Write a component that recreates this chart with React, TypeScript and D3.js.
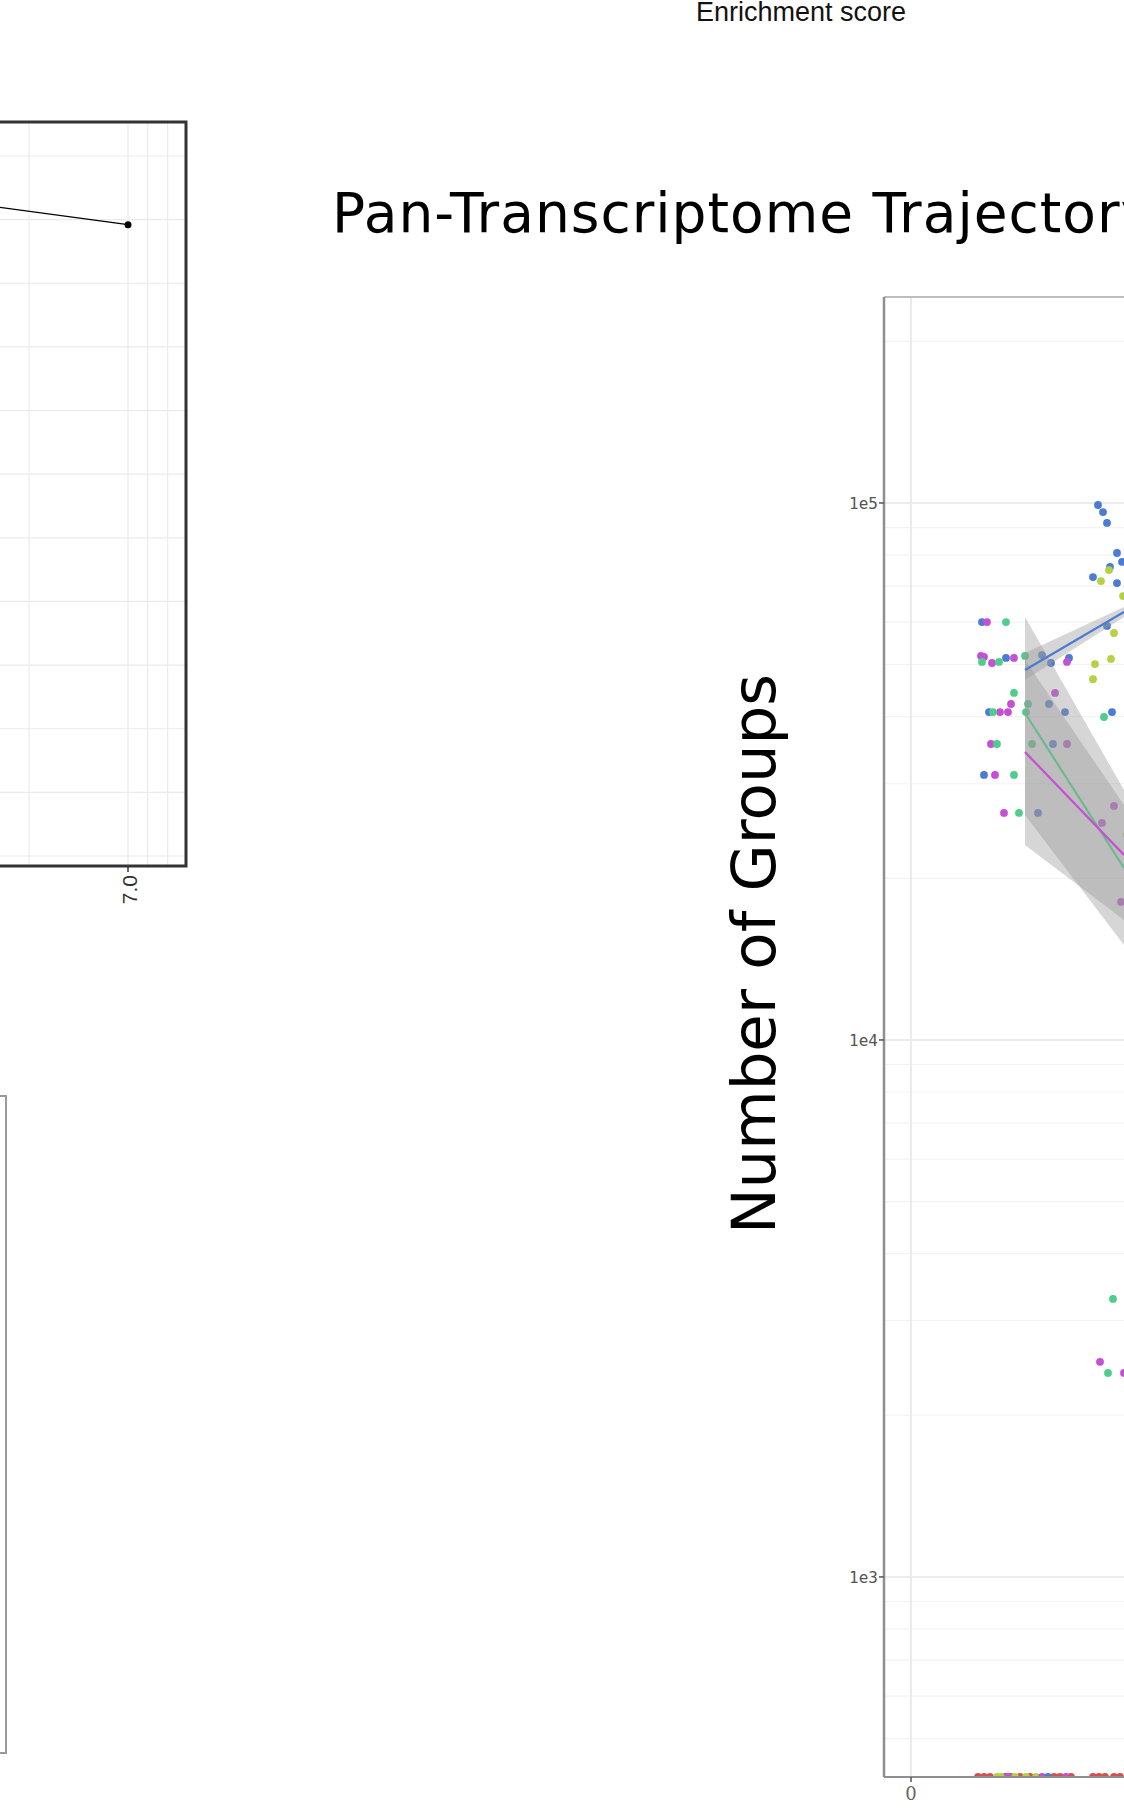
import React, { useEffect, useRef } from 'react';
import * as d3 from 'd3';

// ---- left (enrichment) panel, only its right edge is in view ----
const enrichX = [6.0, 7.0];
const enrichY = [5.17, 4.96];
const enrichGridX = [6.5, 7.0, 7.1, 7.2];
const enrichGridY = [0, 0.5, 1, 1.5, 2, 2.5, 3, 3.5, 4, 4.5, 5, 5.5];
const enrichTicks = [7.0];
const enrichTickLabels = ['7.0'];

// ---- pan-transcriptome trajectory panel ----
const blueX = [7.1, 9.5, 7.8, 7.3, 13.1, 14.0, 15.8, 13.8, 15.4, 14.2, 12.7, 18.7, 19.2, 19.6, 20.6, 21.1, 18.2, 19.9, 20.6, 19.6, 20.1];
const blueY = [60000, 51450, 40800, 31160, 52100, 50350, 51450, 42230, 40800, 35580, 26470, 99150, 96200, 91800, 80700, 77700, 72800, 76000, 70950, 59020, 40800];

const magentaX = [7.6, 7.0, 7.3, 8.1, 10.3, 10.0, 8.9, 9.7, 8.0, 8.4, 9.3, 15.6, 14.4, 15.6, 20.3, 19.1, 21.0, 18.9, 21.3];
const magentaY = [60000, 51900, 51680, 50350, 51450, 42230, 40800, 40800, 35580, 31160, 26470, 50580, 44290, 35580, 27280, 25360, 18070, 2515, 2398];

const greenX = [9.5, 7.1, 8.8, 10.3, 8.2, 8.6, 10.3, 10.8, 11.4, 11.7, 11.5, 12.1, 19.3, 20.2, 19.7];
const greenY = [60000, 50580, 50580, 44290, 40800, 35580, 31160, 26470, 51900, 42230, 40800, 35580, 39940, 3294, 2398];

const limeX = [19.8, 19.0, 21.2, 20.3, 18.4, 20.0, 18.2, 21.6];
const limeY = [75000, 71550, 67100, 57270, 50130, 51230, 46980, 24100];

// zero counts sit on the bottom of the panel
const redZeroX = [6.7, 7.3, 7.9, 9.4, 10.0, 10.9, 11.9, 14.3, 14.9, 16.0, 18.2, 18.8, 19.4, 20.3, 20.9];
const limeZeroX = [8.6, 9.0, 10.4, 11.5, 12.5];
const magentaZeroX = [9.7, 13.1, 15.5];
const blueZeroX = [13.7];

// linear fits (log y) with confidence bands
const fitX = [11.4, 21.3];
const blueFit = [48870, 62680];
const blueLo = [46810, 61330];
const blueHi = [52560, 64010];
const greenFit = [40640, 20910];
const greenLo = [26240, 15030];
const greenHi = [61330, 29210];
const magentaFit = [34380, 22110];
const magentaLo = [23080, 16730];
const magentaHi = [51000, 27390];

const majorBreaks = [1e3, 1e4, 1e5];
const majorLabels = ['1e3', '1e4', '1e5'];
const minorBreaks = [500, 600, 700, 800, 900, 2000, 3000, 4000, 5000, 6000, 7000, 8000, 9000,
  20000, 30000, 40000, 50000, 60000, 70000, 80000, 90000, 200000];
const xBreaks = [0];
const xLabels = ['0'];

const COLORS = {
  blue: '#4b7bd3',
  magenta: '#c450d5',
  green: '#4fcd8c',
  lime: '#b4d243',
  red: '#d6504f',
};

const App = () => {
  const svgRef = useRef(null);

  useEffect(() => {
    const svg = d3.select(svgRef.current);
    svg.selectAll('*').remove();

    // ---------- enrichment panel ----------
    const xL = d3.scaleLinear().domain([6.5, 7.0]).range([29, 128]);
    const yL = d3.scaleLinear().domain([0, 5.5]).range([856, 156]);
    const left = svg.append('g');
    const lTop = 122, lBottom = 866, lRight = 186;

    left.selectAll('line.gy').data(enrichGridY).enter().append('line')
      .attr('x1', -10).attr('x2', lRight)
      .attr('y1', d => yL(d)).attr('y2', d => yL(d))
      .attr('stroke', '#ebebeb').attr('stroke-width', 1.2);
    left.selectAll('line.gx').data(enrichGridX).enter().append('line')
      .attr('x1', d => xL(d)).attr('x2', d => xL(d))
      .attr('y1', lTop).attr('y2', lBottom)
      .attr('stroke', '#ebebeb').attr('stroke-width', 1.2);

    const enrich = enrichX.map((x, i) => ({ x, y: enrichY[i] }));
    left.append('path').datum(enrich)
      .attr('fill', 'none').attr('stroke', '#000').attr('stroke-width', 1.3)
      .attr('d', d3.line().x(d => xL(d.x)).y(d => yL(d.y)));
    left.selectAll('circle').data(enrich).enter().append('circle')
      .attr('cx', d => xL(d.x)).attr('cy', d => yL(d.y)).attr('r', 3.5).attr('fill', '#000');

    left.append('rect')
      .attr('x', -20).attr('y', lTop).attr('width', lRight + 20).attr('height', lBottom - lTop)
      .attr('fill', 'none').attr('stroke', '#333').attr('stroke-width', 3);

    enrichTicks.forEach((t, i) => {
      left.append('line').attr('x1', xL(t)).attr('x2', xL(t))
        .attr('y1', lBottom).attr('y2', lBottom + 6).attr('stroke', '#333').attr('stroke-width', 1.5);
      left.append('text')
        .attr('transform', `translate(${xL(t)},${lBottom + 9}) rotate(-90)`)
        .attr('text-anchor', 'end').attr('dy', '0.45em')
        .style('font-family', '"Liberation Sans", Arial, sans-serif').style('font-size', '21px')
        .attr('fill', '#333').text(enrichTickLabels[i]);
    });

    svg.append('text').attr('x', 801).attr('y', 21).attr('text-anchor', 'middle')
      .style('font-family', '"Liberation Sans", Arial, sans-serif').style('font-size', '27px')
      .attr('fill', '#111').text('Enrichment score');

    // bottom-left panel edge
    svg.append('rect').attr('x', -20).attr('y', 1096).attr('width', 26).attr('height', 657)
      .attr('fill', 'none').attr('stroke', '#9a9a9a').attr('stroke-width', 2);

    // ---------- trajectory panel ----------
    const pLeft = 884, pTop = 297, pBottom = 1777;
    const x = d3.scaleLinear().domain([-2.7, 21.3]).range([pLeft, 1124]);
    const y = d3.scaleLog().domain([424, 241900]).range([pBottom, pTop]);
    const yPos = v => (v > 0 ? y(v) : y.range()[0]);

    svg.append('text').attr('x', 332).attr('y', 232)
      .style('font-family', '"DejaVu Sans", sans-serif').style('font-size', '55px')
      .style('letter-spacing', '1px')
      .attr('fill', '#000').text('Pan-Transcriptome Trajectory');

    svg.append('text').attr('transform', 'translate(775,954) rotate(-90)')
      .attr('text-anchor', 'middle')
      .style('font-family', '"DejaVu Sans", sans-serif').style('font-size', '61px')
      .attr('fill', '#000').text('Number of Groups');

    svg.append('clipPath').attr('id', 'panel-clip').append('rect')
      .attr('x', pLeft).attr('y', pTop).attr('width', 800).attr('height', pBottom - pTop);

    const panel = svg.append('g').attr('clip-path', 'url(#panel-clip)');

    panel.selectAll('line.minor').data(minorBreaks).enter().append('line')
      .attr('x1', pLeft).attr('x2', 1500).attr('y1', d => y(d)).attr('y2', d => y(d))
      .attr('stroke', '#f3f3f3').attr('stroke-width', 1.2);
    panel.selectAll('line.major').data(majorBreaks).enter().append('line')
      .attr('x1', pLeft).attr('x2', 1500).attr('y1', d => y(d)).attr('y2', d => y(d))
      .attr('stroke', '#e6e6e6').attr('stroke-width', 1.5);
    panel.selectAll('line.vx').data(xBreaks).enter().append('line')
      .attr('x1', d => x(d)).attr('x2', d => x(d)).attr('y1', pTop).attr('y2', pBottom)
      .attr('stroke', '#ebebeb').attr('stroke-width', 2);

    const series = [
      { xs: blueX, ys: blueY, color: COLORS.blue },
      { xs: magentaX, ys: magentaY, color: COLORS.magenta },
      { xs: greenX, ys: greenY, color: COLORS.green },
      { xs: limeX, ys: limeY, color: COLORS.lime },
      { xs: redZeroX, ys: redZeroX.map(() => 0), color: COLORS.red },
      { xs: limeZeroX, ys: limeZeroX.map(() => 0), color: COLORS.lime },
      { xs: magentaZeroX, ys: magentaZeroX.map(() => 0), color: COLORS.magenta },
      { xs: blueZeroX, ys: blueZeroX.map(() => 0), color: COLORS.blue },
    ];
    series.forEach(s => {
      panel.append('g').selectAll('circle')
        .data(s.xs.map((xv, i) => ({ x: xv, y: s.ys[i] })))
        .enter().append('circle')
        .attr('cx', d => x(d.x)).attr('cy', d => yPos(d.y))
        .attr('r', 3.9).attr('fill', s.color);
    });

    const fits = [
      { fit: greenFit, lo: greenLo, hi: greenHi, color: COLORS.green },
      { fit: magentaFit, lo: magentaLo, hi: magentaHi, color: COLORS.magenta },
      { fit: blueFit, lo: blueLo, hi: blueHi, color: COLORS.blue },
    ];
    const area = d3.area().x(d => x(d.x)).y0(d => y(d.lo)).y1(d => y(d.hi));
    const line = d3.line().x(d => x(d.x)).y(d => y(d.fit));
    fits.forEach(f => {
      const rows = fitX.map((xv, i) => ({ x: xv, fit: f.fit[i], lo: f.lo[i], hi: f.hi[i] }));
      panel.append('path').datum(rows).attr('d', area)
        .attr('fill', '#999999').attr('fill-opacity', 0.4);
      panel.append('path').datum(rows).attr('d', line)
        .attr('fill', 'none').attr('stroke', f.color).attr('stroke-width', 2.2);
    });

    // panel frame and axes
    svg.append('line').attr('x1', pLeft).attr('x2', 1124).attr('y1', pTop).attr('y2', pTop)
      .attr('stroke', '#a8a8a8').attr('stroke-width', 1.5);
    svg.append('line').attr('x1', pLeft).attr('x2', pLeft).attr('y1', pTop).attr('y2', pBottom)
      .attr('stroke', '#8f8f8f').attr('stroke-width', 2.5);
    svg.append('line').attr('x1', pLeft).attr('x2', 1124).attr('y1', pBottom).attr('y2', pBottom)
      .attr('stroke', '#8f8f8f').attr('stroke-width', 2);

    const yAxis = svg.append('g');
    majorBreaks.forEach((b, i) => {
      yAxis.append('line').attr('x1', pLeft - 5).attr('x2', pLeft).attr('y1', y(b)).attr('y2', y(b))
        .attr('stroke', '#555').attr('stroke-width', 1.5);
      yAxis.append('text').attr('x', pLeft - 6).attr('y', y(b)).attr('dy', '0.35em')
        .attr('text-anchor', 'end')
        .style('font-family', '"DejaVu Sans Mono", monospace').style('font-size', '16px')
        .attr('fill', '#555').text(majorLabels[i]);
    });

    xBreaks.forEach((b, i) => {
      svg.append('line').attr('x1', x(b)).attr('x2', x(b)).attr('y1', pBottom).attr('y2', pBottom + 5)
        .attr('stroke', '#555').attr('stroke-width', 1.5);
      svg.append('text').attr('x', x(b)).attr('y', pBottom + 23).attr('text-anchor', 'middle')
        .style('font-family', '"DejaVu Serif", serif').style('font-size', '18px')
        .attr('fill', '#666').text(xLabels[i]);
    });
  }, []);

  return (
    <svg
      ref={svgRef}
      width={1124}
      height={1815}
      style={{ position: 'absolute', left: 0, top: 0, background: '#fff' }}
    />
  );
};

export default App;
